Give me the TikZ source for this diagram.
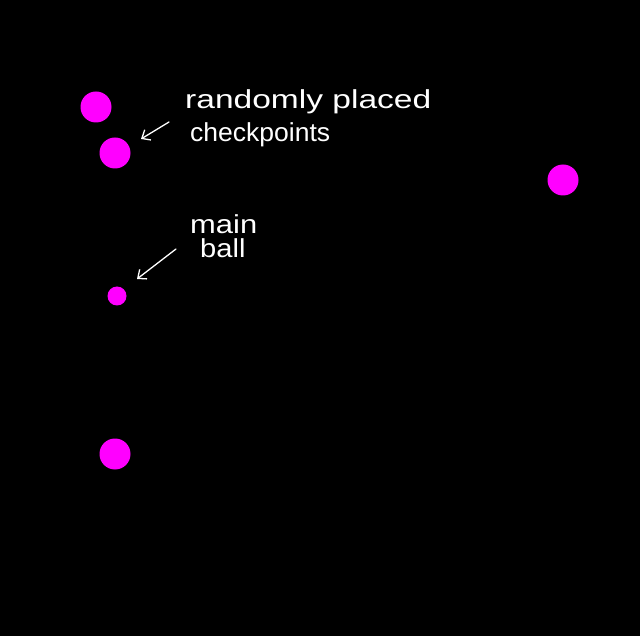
\documentclass[tikz,border=0pt]{standalone}
\usepackage{fontspec}
\setmainfont{Liberation Sans}
\begin{document}
\begin{tikzpicture}[x=1pt,y=-1pt,
  dot/.style={circle,fill={rgb,255:red,255;green,0;blue,255},inner sep=0pt,minimum size=#1},
  note/.style={text=white,font=\fontsize{26}{28}\selectfont,anchor=west,inner sep=0pt},
  pointer/.style={draw=white,line width=1.3pt,-{Straight Barb[length=7pt,width=12pt]},line cap=round}]
\usetikzlibrary{arrows.meta}
\fill[black] (0,0) rectangle (640,636);
\useasboundingbox (0,0) rectangle (640,636);
\node[dot=31pt] (c1) at (96,107) {};
\node[dot=31pt] (c2) at (115,153) {};
\node[dot=31pt] (c3) at (563,180) {};
\node[dot=31pt] (c4) at (115,454) {};
\node[dot=19pt] (ball) at (117,296) {};
\node[note] (t1) at (185,102) {\scalebox{1.29}[1]{randomly placed}};
\node[note] (t2) at (190,135) {\scalebox{1.02}[1]{checkpoints}};
\node[note] (t3) at (190,224) {\scalebox{1.19}[1]{main}};
\node[note] (t4) at (200,248) {\scalebox{1.12}[1]{ball}};
\coordinate (a1s) at (169,122);
\coordinate (a1e) at (141,139);
\coordinate (a2s) at (176,249);
\coordinate (a2e) at (137,279);
\draw[pointer] (a1s) -- (a1e);
\draw[pointer] (a2s) -- (a2e);
\end{tikzpicture}
\end{document}
